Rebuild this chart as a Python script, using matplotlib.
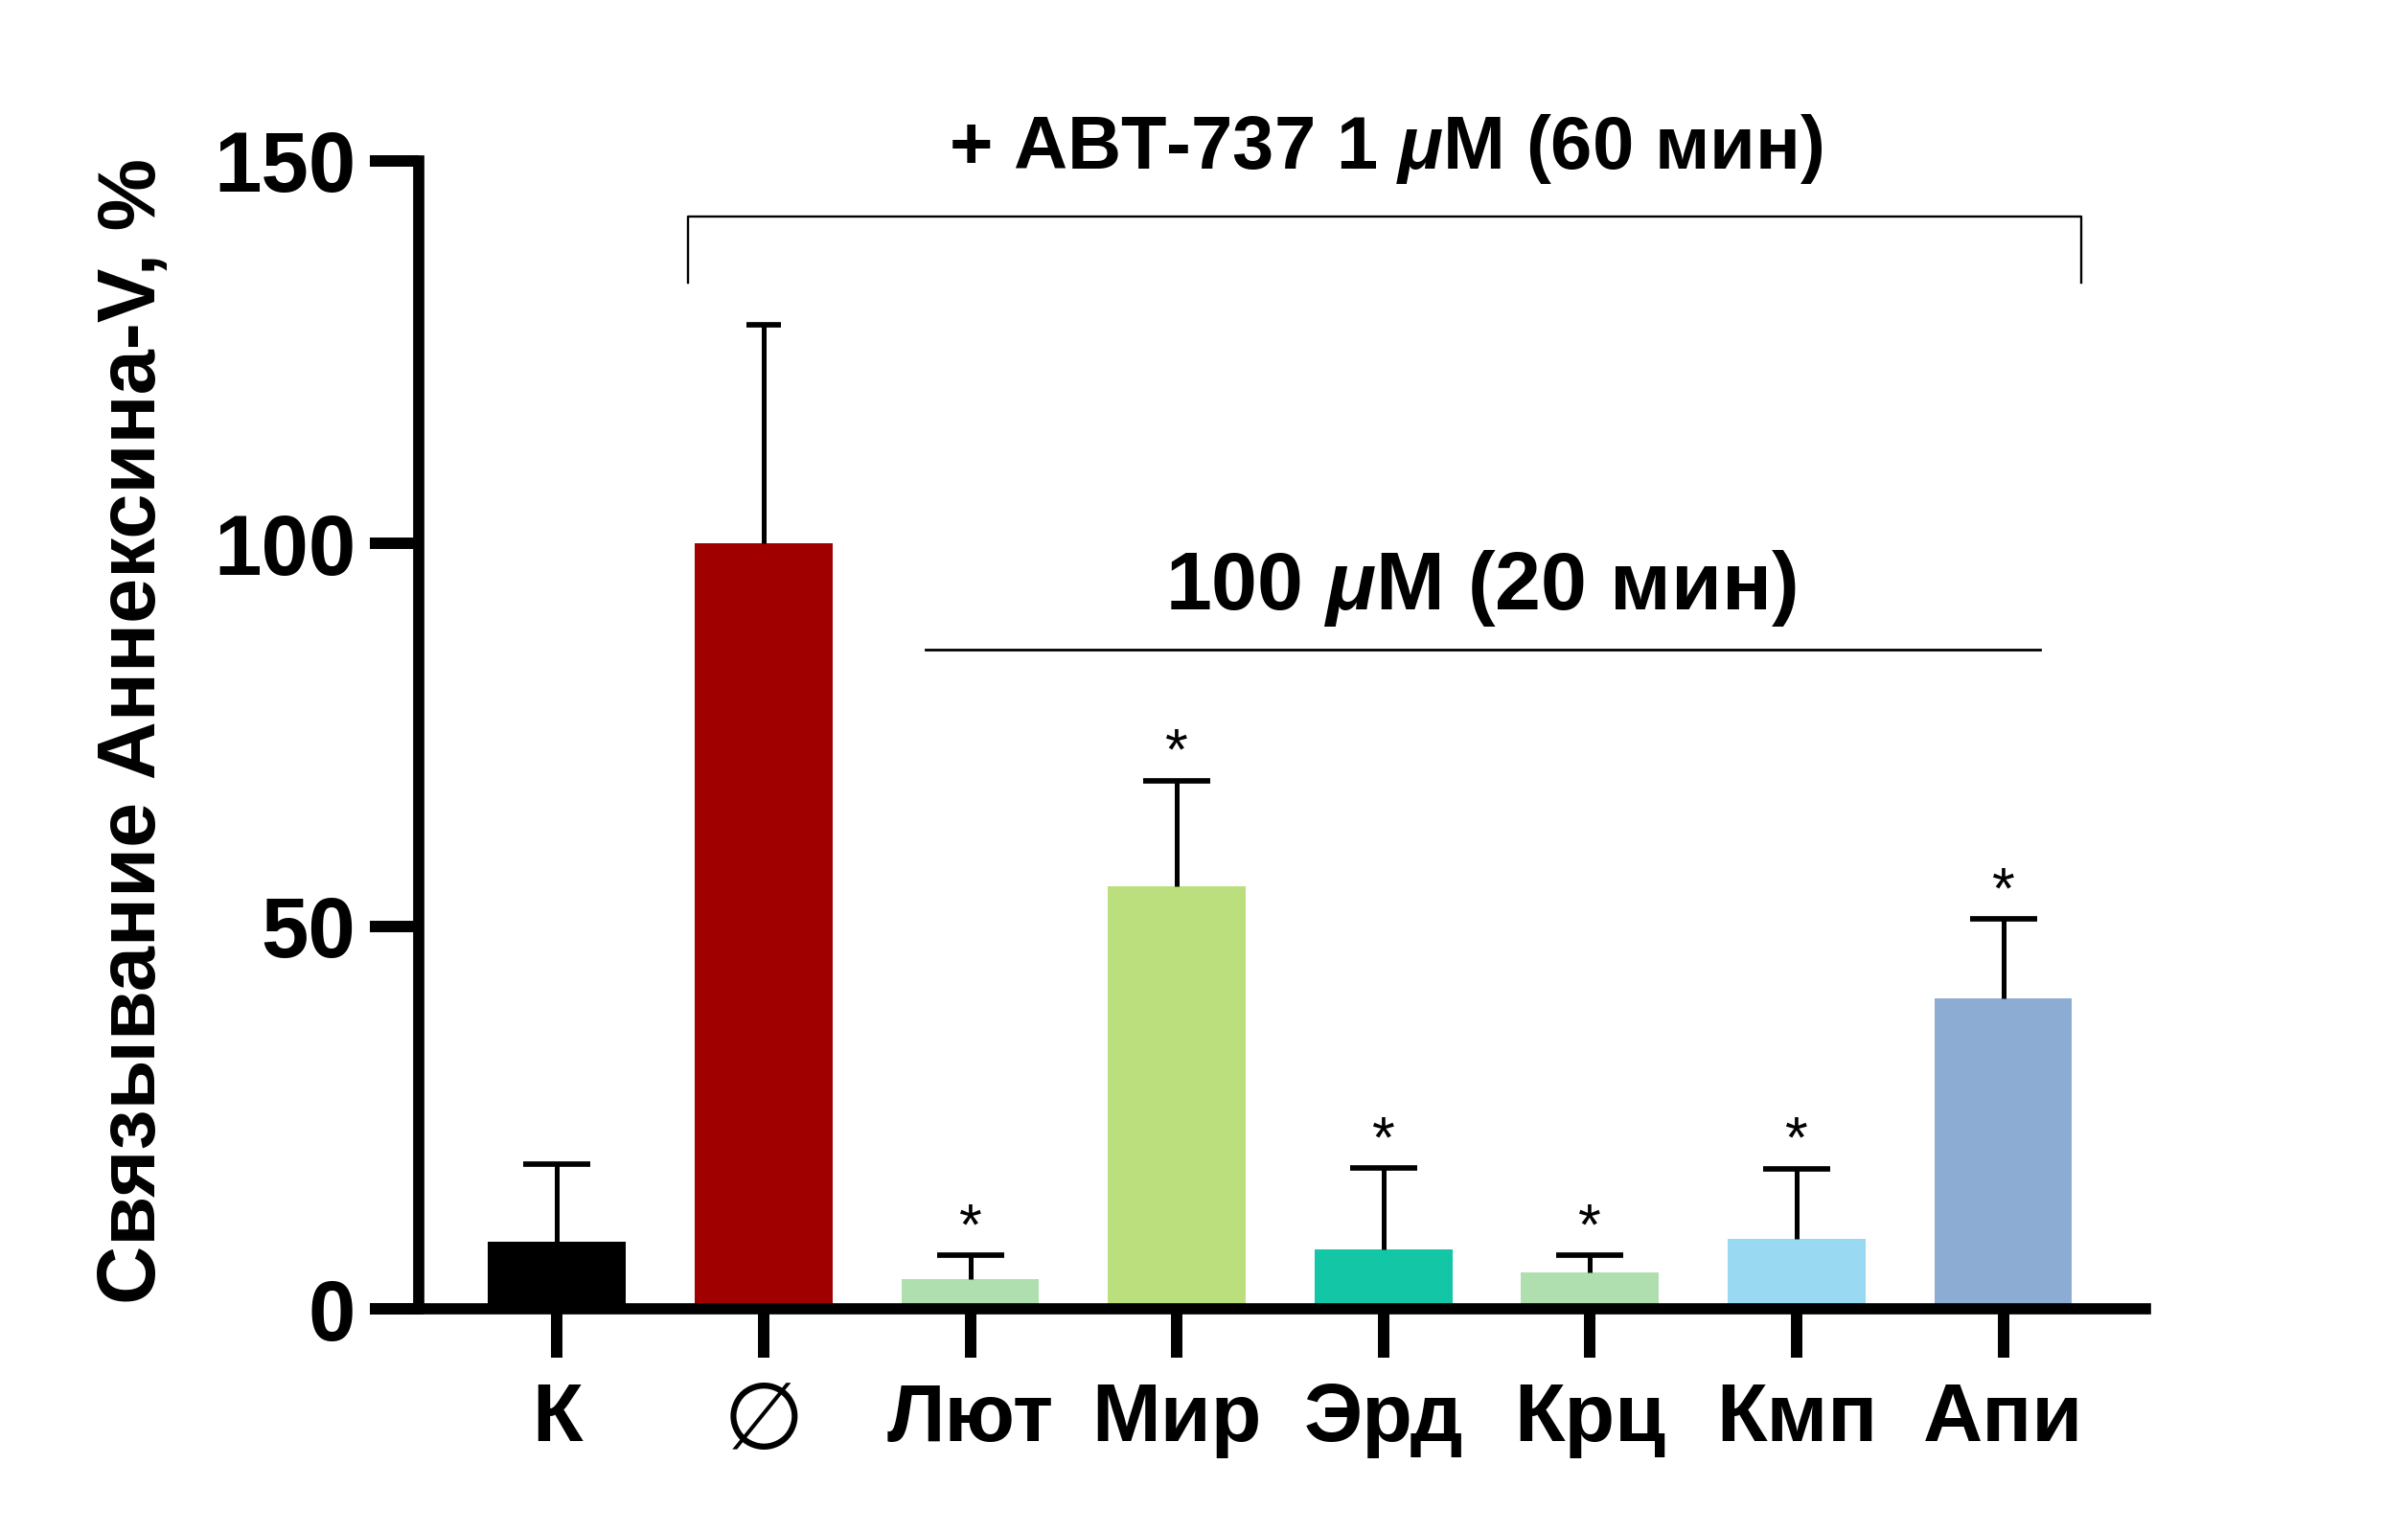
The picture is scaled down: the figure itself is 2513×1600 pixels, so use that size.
import matplotlib
matplotlib.use('Agg')
import matplotlib.pyplot as plt
import numpy as np

# ──────────────────────────────────────────────
# данные
# ──────────────────────────────────────────────
LABELS = ['К', '∅', 'Лют', 'Мир', 'Эрд', 'Крц', 'Кмп', 'Апи']
MEANS = [8.7, 100.0, 3.9, 55.2, 7.7, 4.8, 9.1, 40.6]
ERRORS = [10.2, 28.6, 3.1, 13.8, 10.7, 2.2, 9.2, 10.3]
SIGNIF = [False, False, True, True, True, True, True, True]
COLORS = ['#000000', '#a00000', '#afdfaf', '#bcdf7d',
          '#13c7a6', '#afdfaf', '#99d9f1', '#8dacd3']

Y_TICKS = [0, 50, 100, 150]
TOP_TEXT = '+ ABT-737 1 $\\mu$M (60 мин)'
MID_TEXT = '100 $\\mu$M (20 мин)'
Y_LABEL = 'Связывание Аннексина-V, %'

plt.rcParams['font.family'] = ['Liberation Sans', 'DejaVu Sans']
plt.rcParams['font.weight'] = 'bold'
plt.rcParams['mathtext.fontset'] = 'custom'
plt.rcParams['mathtext.rm'] = 'Liberation Sans:bold'
plt.rcParams['mathtext.it'] = 'Liberation Sans:italic:bold'

fig = plt.figure(figsize=(25.13, 16), dpi=100)
ax = fig.add_axes([0.1737, 0.14625, 0.7172, 0.749])

x = np.arange(len(LABELS))
ax.bar(x, MEANS, width=0.667, color=COLORS, zorder=1)

# только верхние усы; у ∅ колпачок уже
for i in range(len(LABELS)):
    cap = 13 if i == 1 else 25
    _, caplines, _ = ax.errorbar(x[i], MEANS[i], yerr=[[0], [ERRORS[i]]],
                                 fmt='none', ecolor='black', elinewidth=3.6,
                                 capsize=cap, capthick=4.1, zorder=3)
    caplines[0].set_visible(False)
    if SIGNIF[i]:
        ax.text(x[i], MEANS[i] + ERRORS[i] + 1.5, '*', ha='center', va='baseline',
                fontsize=44, fontweight='normal', zorder=4)

ax.set_xlim(-0.672, 7.688)
ax.set_ylim(0, 150)
ax.set_yticks(Y_TICKS)
ax.set_xticks(x)
ax.set_xticklabels(LABELS)

for side in ['top', 'right']:
    ax.spines[side].set_visible(False)
for side in ['left', 'bottom']:
    ax.spines[side].set_linewidth(8.4)

ax.tick_params(axis='both', length=37, width=8.6, direction='out')
ax.tick_params(axis='y', labelsize=64, pad=10)
ax.tick_params(axis='x', labelsize=62, pad=18)
for lbl in ax.get_yticklabels() + ax.get_xticklabels():
    lbl.set_fontweight('bold')
empty = ax.get_xticklabels()[1]
empty.set_fontweight('normal')
empty.set_fontsize(70)

# скобка над группой ABT-737
ax.plot([0.635, 0.635, 7.38, 7.38], [134.1, 142.7, 142.7, 134.1],
        color='black', lw=1.7, clip_on=False)
ax.text(4.01, 148.9, TOP_TEXT, ha='center', va='baseline', fontsize=56,
        clip_on=False)

# линия под подписью концентрации флавоноидов
ax.plot([1.783, 7.18], [86.1, 86.1], color='black', lw=2.0)
ax.text(4.47, 91.4, MID_TEXT, ha='center', va='baseline', fontsize=62)

fig.text(140 / 2513, 1 - 763 / 1600, Y_LABEL, rotation=90, ha='center',
         va='center', fontsize=61, fontweight='bold')

fig.savefig('out.png', dpi=100)
